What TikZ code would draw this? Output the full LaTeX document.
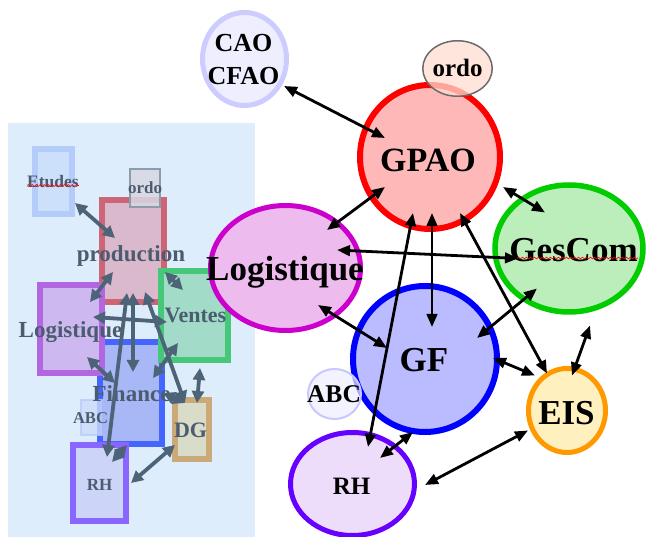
\documentclass[tikz,border=0pt]{standalone}
\usepackage{fontspec}
\setmainfont{Liberation Serif}
\usetikzlibrary{arrows.meta,shapes.geometric,decorations.pathmorphing}

% left panel colours
\definecolor{panelbg}{HTML}{DEEDFB}
\definecolor{etb}{HTML}{B4CCFA}\definecolor{etf}{HTML}{CCE0FC}
\definecolor{orb}{HTML}{8C9CAC}\definecolor{orf}{HTML}{D8D8E2}
\definecolor{prb}{HTML}{CC6677}\definecolor{prf}{HTML}{D9B9CB}
\definecolor{lgb}{HTML}{B266E0}\definecolor{lgf}{HTML}{CDB9F0}
\definecolor{veb}{HTML}{46C878}\definecolor{vef}{HTML}{A2DCC8}
\definecolor{fib}{HTML}{4466FF}\definecolor{fif}{HTML}{A8B8F6}
\definecolor{abb}{HTML}{B8CCF8}\definecolor{abf}{HTML}{CCDCFA}
\definecolor{dgb}{HTML}{CCAA77}\definecolor{dgf}{HTML}{D8DCC8}
\definecolor{rhb}{HTML}{8866FF}\definecolor{rhf}{HTML}{CCD4F8}
\definecolor{slate}{HTML}{4C5C70}
\definecolor{slatearr}{HTML}{4D6478}
% main diagram colours
\definecolor{caob}{HTML}{CCCCFF}\definecolor{caof}{HTML}{EEEEFF}
\definecolor{ordob}{HTML}{6B6B6B}\definecolor{ordof}{HTML}{FFDCD0}
\definecolor{gpb}{HTML}{FF0000}\definecolor{gpf}{HTML}{FFB8B8}
\definecolor{gcb}{HTML}{00CC00}\definecolor{gcf}{HTML}{BBEEBB}
\definecolor{logb}{HTML}{CC00CC}\definecolor{logf}{HTML}{EEBBEE}
\definecolor{logp}{HTML}{D890E0}\definecolor{logv}{HTML}{9A70AE}
\definecolor{logvb}{HTML}{80688E}
\definecolor{gfb}{HTML}{0000FF}\definecolor{gff}{HTML}{BBBBFF}
\definecolor{abcb}{HTML}{C8C8FF}\definecolor{abcf}{HTML}{EEEEFF}
\definecolor{eisb}{HTML}{FF9900}\definecolor{eisf}{HTML}{FFF0C0}
\definecolor{rhbb}{HTML}{6600FF}\definecolor{rhff}{HTML}{EEDDFA}

\newcommand{\fsz}[1]{\fontsize{#1}{#1}\selectfont}

\begin{document}
\begin{tikzpicture}[x=1pt,y=-1pt,
  pbox/.style={rectangle,draw,inner sep=0pt,line width=6pt},
  thinbox/.style={rectangle,draw,inner sep=0pt,line width=2pt},
  ptxt/.style={text=slate,inner sep=0pt,anchor=base,font=\bfseries\fsz{#1}},
  parrow/.style={draw=slatearr,line width=3.8pt,
    {Triangle[length=12pt,width=12pt]}-{Triangle[length=12pt,width=12pt]}},
  ell/.style={ellipse,draw,inner sep=0pt},
  etxt/.style={inner sep=0pt,anchor=base,font=\bfseries\fsz{#1}},
  arrow/.style={draw=black,line width=2.8pt,
    {Triangle[length=13pt,width=10.5pt]}-{Triangle[length=13pt,width=10.5pt]}},
  squiggle/.style={draw=red,line width=0.6pt,decorate,
    decoration={snake,amplitude=0.9pt,segment length=4pt}}]

\useasboundingbox (0,0) rectangle (646,537);

%% ---------- left panel: module boxes ----------
\fill[panelbg] (8,123) rectangle (255,537);

\node[pbox,draw=etb,fill=etf,minimum width=37pt,minimum height=65pt] (etudes) at (53.5,181.5) {};
\node[pbox,draw=prb,fill=prf,minimum width=62pt,minimum height=102pt] (prod) at (133,251) {};
\node[thinbox,draw=orb,fill=orf,fill opacity=0.85,minimum width=30pt,minimum height=38pt] (ordo2) at (145,188) {};
\node[pbox,draw=fib,fill=fif,minimum width=62pt,minimum height=102pt] (fin) at (131,393) {};
\node[pbox,draw=lgb,fill=lgf,minimum width=62pt,minimum height=88pt] (logbox) at (71,329) {};
\node[pbox,draw=veb,fill=vef,minimum width=67pt,minimum height=89pt] (ventes) at (194.5,315.5) {};
\node[pbox,draw=dgb,fill=dgf,minimum width=34pt,minimum height=59pt] (dg) at (192,429.5) {};
\node[pbox,draw=rhb,fill=rhf,minimum width=53pt,minimum height=76pt] (rh2) at (99.5,483) {};
\node[thinbox,draw=abb,fill=abf,opacity=0.8,minimum width=21pt,minimum height=35pt] (abc2) at (91.5,417.5) {};

\node[ptxt=17.5] (etudes-t) at (53,188) {Etudes};
\draw[squiggle] ([yshift=2.5pt]etudes-t.base west) -- ([yshift=2.5pt]etudes-t.base east);
\node[ptxt=17] (ordo2-t) at (145,194) {ordo};
\node[ptxt=23] (prod-t) at (131,262) {production};
\node[ptxt=23] (logbox-t) at (70.5,338) {Logistique};
\node[ptxt=22] (ventes-t) at (195.5,323) {Ventes};
\node[ptxt=23] (fin-t) at (131.5,402) {Finance};
\node[ptxt=16.5] (abc2-t) at (90.5,424) {ABC};
\node[ptxt=22] (dg-t) at (190.5,438) {DG};
\node[ptxt=17] (rh2-t) at (99.5,490) {RH};

%% ---------- left panel: links ----------
\draw[parrow] ([shift={(21.5,21.5)}]etudes.center) -- ([shift={(-18,-13)}]prod.center);
\draw[parrow] ([shift={(-20,21)}]prod.center) -- ([shift={(19,-27)}]logbox.center);
\draw[parrow] ([shift={(32,21)}]prod.center) -- ([shift={(-11.5,-25.5)}]ventes.center);
\draw[parrow] ([shift={(-27.5,6.5)}]ventes.center) -- ([shift={(22,-12)}]logbox.center);
\draw[parrow] ([shift={(0,42)}]prod.center) -- ([shift={(2,-21)}]fin.center);
\draw[parrow] ([shift={(-6,42)}]prod.center) -- ([shift={(7.5,-26)}]rh2.center);
\draw[parrow] ([shift={(12,41)}]prod.center) -- ([shift={(-7,-26.5)}]dg.center);
\draw[parrow] ([shift={(16,28)}]logbox.center) -- ([shift={(-16,-10)}]fin.center);
\draw[parrow] ([shift={(-16.5,27.5)}]ventes.center) -- ([shift={(22,-15)}]fin.center);
\draw[parrow] ([shift={(32,0)}]fin.center) -- ([shift={(-7,-26.5)}]dg.center);
\draw[parrow] ([shift={(5.5,52.5)}]ventes.center) -- ([shift={(5,-26.5)}]dg.center);
\draw[parrow] ([shift={(-4,52)}]fin.center) -- ([shift={(12.5,-21)}]rh2.center);
\draw[parrow] ([shift={(-17,15.5)}]dg.center) -- ([shift={(31.5,0)}]rh2.center);

%% ---------- main diagram: modules ----------
\node[ell,draw=caob,fill=caof,line width=5pt,minimum width=84pt,minimum height=93pt] (cao) at (244.5,59) {};
\node[ell,draw=gpb,fill=gpf,line width=6pt,minimum width=140pt,minimum height=144pt] (gpao) at (430,157) {};
\node[ell,draw=ordob,fill=ordof,fill opacity=0.75,line width=1.5pt,minimum width=69.5pt,minimum height=55.5pt] (ordo) at (457.5,68.5) {};
\node[ell,draw=gcb,fill=gcf,line width=5.5pt,minimum width=148pt,minimum height=127pt] (gescom) at (569,248.5) {};
\node[ell,draw=logb,fill=logf,line width=5pt,minimum width=150pt,minimum height=125pt,
  path picture={
    \fill[logp] (8,123) rectangle (255,537);
    \fill[logvb] (158,268) rectangle (231,363);
    \fill[logv] (164,274) rectangle (225,357);
  }] (logi) at (285.5,268) {};
\node[ell,draw=gfb,fill=gff,line width=6pt,minimum width=144pt,minimum height=146pt] (gf) at (425,359) {};
\node[ell,draw=abcb,fill=abcf,fill opacity=0.7,line width=2pt,minimum width=53pt,minimum height=50pt] (abc) at (334.5,394) {};
\node[ell,draw=eisb,fill=eisf,line width=5pt,minimum width=77pt,minimum height=84pt] (eis) at (567,410.5) {};
\node[ell,draw=rhbb,fill=rhff,line width=5pt,minimum width=124pt,minimum height=103pt] (rh) at (352.5,484) {};

\node[inner sep=0pt,align=center,font=\bfseries\fontsize{26}{33}\selectfont] (cao-t) at (243.5,60) {CAO\\CFAO};
\node[etxt=25] (ordo-t) at (457.5,77) {ordo};
\node[etxt=34] (gpao-t) at (428,172) {GPAO};
\node[etxt=35] (gescom-t) at (573.5,262) {GesCom};
\draw[squiggle] ([yshift=4pt]gescom-t.base west) -- ([yshift=4pt]gescom-t.base east);
\node[etxt=35] (logi-t) at (285,281) {Logistique};
\node[etxt=35] (gf-t) at (424,372) {GF};
\node[etxt=25.5] (abc-t) at (334,403) {ABC};
\node[etxt=35] (eis-t) at (566.5,425) {EIS};
\node[etxt=25] (rh-t) at (351.5,495) {RH};

%% ---------- main diagram: links ----------
\draw[arrow] ([shift={(39.5,27)}]cao.center) -- ([shift={(-45,-19)}]gpao.center);
\draw[arrow] ([shift={(-45,30)}]gpao.center) -- ([shift={(41.5,-38)}]logi.center);
\draw[arrow] ([shift={(73,30)}]gpao.center) -- ([shift={(-24,-36)}]gescom.center);
\draw[arrow] ([shift={(-51,10)}]gescom.center) -- ([shift={(51.5,-18)}]logi.center);
\draw[arrow] ([shift={(2,56)}]gpao.center) -- ([shift={(7,-32)}]gf.center);
\draw[arrow] ([shift={(-17,56)}]gpao.center) -- ([shift={(15.5,-37)}]rh.center);
\draw[arrow] ([shift={(30,56)}]gpao.center) -- ([shift={(-20,-37)}]eis.center);
\draw[arrow] ([shift={(-32,40)}]gescom.center) -- ([shift={(52,-21)}]gf.center);
\draw[arrow] ([shift={(21,77)}]gescom.center) -- ([shift={(5,-35)}]eis.center);
\draw[arrow] ([shift={(32.5,37)}]logi.center) -- ([shift={(-38,-11)}]gf.center);
\draw[arrow] ([shift={(68,-1)}]gf.center) -- ([shift={(-32,-35)}]eis.center);
\draw[arrow] ([shift={(-12,73)}]gf.center) -- ([shift={(27.5,-26)}]rh.center);
\draw[arrow] ([shift={(-39,20)}]eis.center) -- ([shift={(72.5,1)}]rh.center);

\end{tikzpicture}
\end{document}
